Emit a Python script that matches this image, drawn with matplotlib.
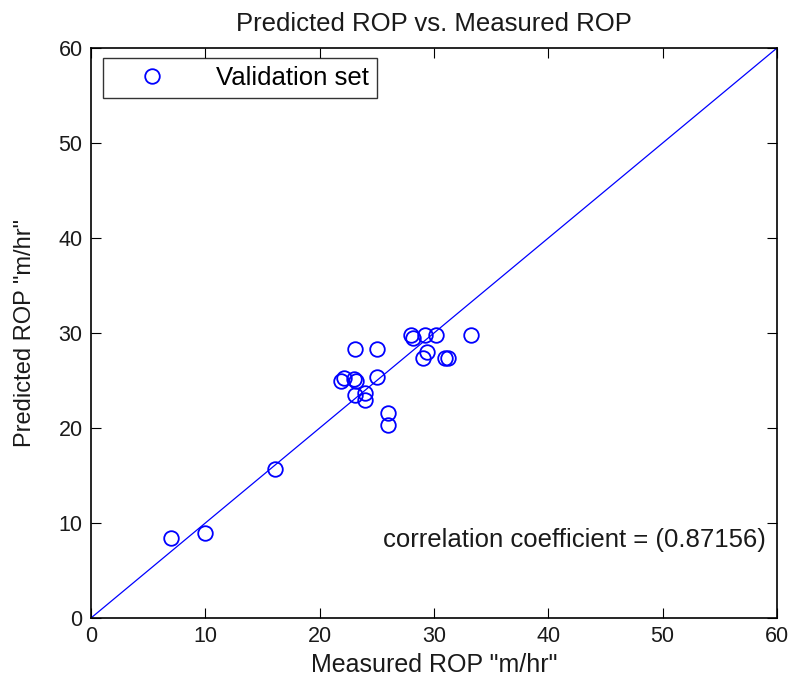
import matplotlib
matplotlib.use("Agg")
import matplotlib.pyplot as plt
import numpy as np

measured = [7.0, 10.0, 16.1, 21.9, 22.1, 23.0, 23.2, 25.0, 23.1, 25.0, 23.1, 24.0, 24.0,
            26.0, 26.0, 28.0, 28.2, 29.2, 30.2, 33.2, 29.0, 29.4, 31.0, 31.2]
predicted = [8.4, 9.0, 15.7, 25.0, 25.3, 25.2, 25.0, 25.4, 28.3, 28.3, 23.5, 23.7, 23.0,
             21.6, 20.3, 29.8, 29.5, 29.8, 29.8, 29.8, 27.4, 28.0, 27.4, 27.4]
r_value = "0.87156"

plt.rcParams['font.family'] = ['Liberation Sans', 'DejaVu Sans']
fig = plt.figure(figsize=(7.92, 6.82), dpi=100)
ax = fig.add_axes([91/792, 64/682, 686/792, 570/682])

ax.plot([0, 60], [0, 60], color='blue', lw=0.9)
ax.plot(measured, predicted, 'o', mfc='none', mec='blue', ms=10.5, mew=1.3,
        label='Validation set', ls='none')

ax.set_xlim(0, 60)
ax.set_ylim(0, 60)
ax.set_xticks(np.arange(0, 61, 10))
ax.set_yticks(np.arange(0, 61, 10))
ax.tick_params(direction='in', top=True, right=True, length=7, labelsize=15.5, pad=6,
               labelcolor='#1a1a1a')
for s in ax.spines.values():
    s.set_linewidth(1.2)

ax.set_title('Predicted ROP vs. Measured ROP', fontsize=18.5, pad=12, color='#1a1a1a')
ax.set_xlabel('Measured ROP "m/hr"', fontsize=18, labelpad=4, color='#1a1a1a')
ax.set_ylabel('Predicted ROP "m/hr"', fontsize=17, labelpad=16, color='#1a1a1a')
ax.text(59.0, 8.2, f'correlation coefficient = ({r_value})', fontsize=18.5,
        ha='right', va='center', color='#1a1a1a')

leg = ax.legend(loc='upper left', bbox_to_anchor=(0.0175, 0.982), borderaxespad=0,
                fontsize=18.5, frameon=True, fancybox=False,
                edgecolor='black', handlelength=3.2,
                handletextpad=0.9, borderpad=0.3)
leg.get_frame().set_linewidth(1.0)

fig.savefig('out.png', dpi=100)
